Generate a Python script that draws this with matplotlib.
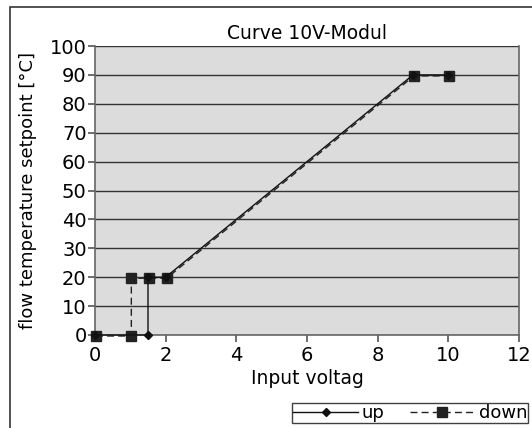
import matplotlib
matplotlib.use('Agg')
import matplotlib.pyplot as plt
import matplotlib.transforms as mtransforms
from matplotlib.patches import Rectangle

# data
up_x = [0, 1.5, 1.5, 2, 9, 10]
up_y = [0, 0, 20, 20, 90, 90]
down_x = [0, 1, 1, 1.5, 2, 9, 10]
down_y = [0, 0, 20, 20, 20, 90, 90]
x_ticks = [0, 2, 4, 6, 8, 10, 12]
y_ticks = [0, 10, 20, 30, 40, 50, 60, 70, 80, 90, 100]

W, H = 532, 428
fig = plt.figure(figsize=(W / 100, H / 100), dpi=100)
ax = fig.add_axes([95 / W, 1 - 335 / H, (519 - 95) / W, (335 - 46) / H])

# outer frame
fig.patches.append(Rectangle((10 / W, -0.01), 1, 1 - 7 / H + 0.01, transform=fig.transFigure,
                             fill=False, edgecolor='#333333', linewidth=1.2))

ax.set_facecolor('#dcdcdc')
# the dashed series sits a hair below/right of the solid one in the original
shifted = mtransforms.offset_copy(ax.transData, fig=fig, x=1.0, y=-1.0, units='dots')
ax.plot(down_x, down_y, color='#222222', linestyle=(0, (5, 3)), linewidth=1.0,
        marker='s', markersize=7, label='down', zorder=3, clip_on=False, transform=shifted)
ax.plot(up_x, up_y, color='#111111', linewidth=1.0, marker='D', markersize=4.5,
        label='up', zorder=4, clip_on=False)

ax.set_xlim(0, 12)
ax.set_ylim(0, 100)
ax.set_xticks(x_ticks)
ax.set_yticks(y_ticks)
ax.yaxis.grid(True, color='#333333', linewidth=1.0)
ax.set_axisbelow(True)
for s in ['top', 'right', 'left', 'bottom']:
    ax.spines[s].set_color('#666666')
    ax.spines[s].set_linewidth(1.2)
ax.spines['top'].set_visible(False)
ax.tick_params(axis='both', labelsize=14, color='#555555', length=5, width=1.2)
ax.tick_params(axis='y', pad=1)
ax.tick_params(axis='x', pad=3)

ax.set_title('Curve 10V-Modul', fontsize=13.5, pad=5)
ax.set_xlabel('Input voltag', fontsize=13.5, labelpad=3)
ax.set_ylabel('flow temperature setpoint [°C]', fontsize=13, labelpad=9)

handles, labels = ax.get_legend_handles_labels()
leg = fig.legend(handles[::-1], labels[::-1], loc='lower right', bbox_to_anchor=(528 / W, 5 / H),
                 ncol=2, fontsize=13, frameon=True, fancybox=False, borderpad=0.05,
                 handlelength=3.6, handletextpad=0.2, columnspacing=1.4, borderaxespad=0)
leg.get_frame().set_edgecolor('#111111')
leg.get_frame().set_linewidth(1.0)

fig.savefig('out.png', dpi=100)
